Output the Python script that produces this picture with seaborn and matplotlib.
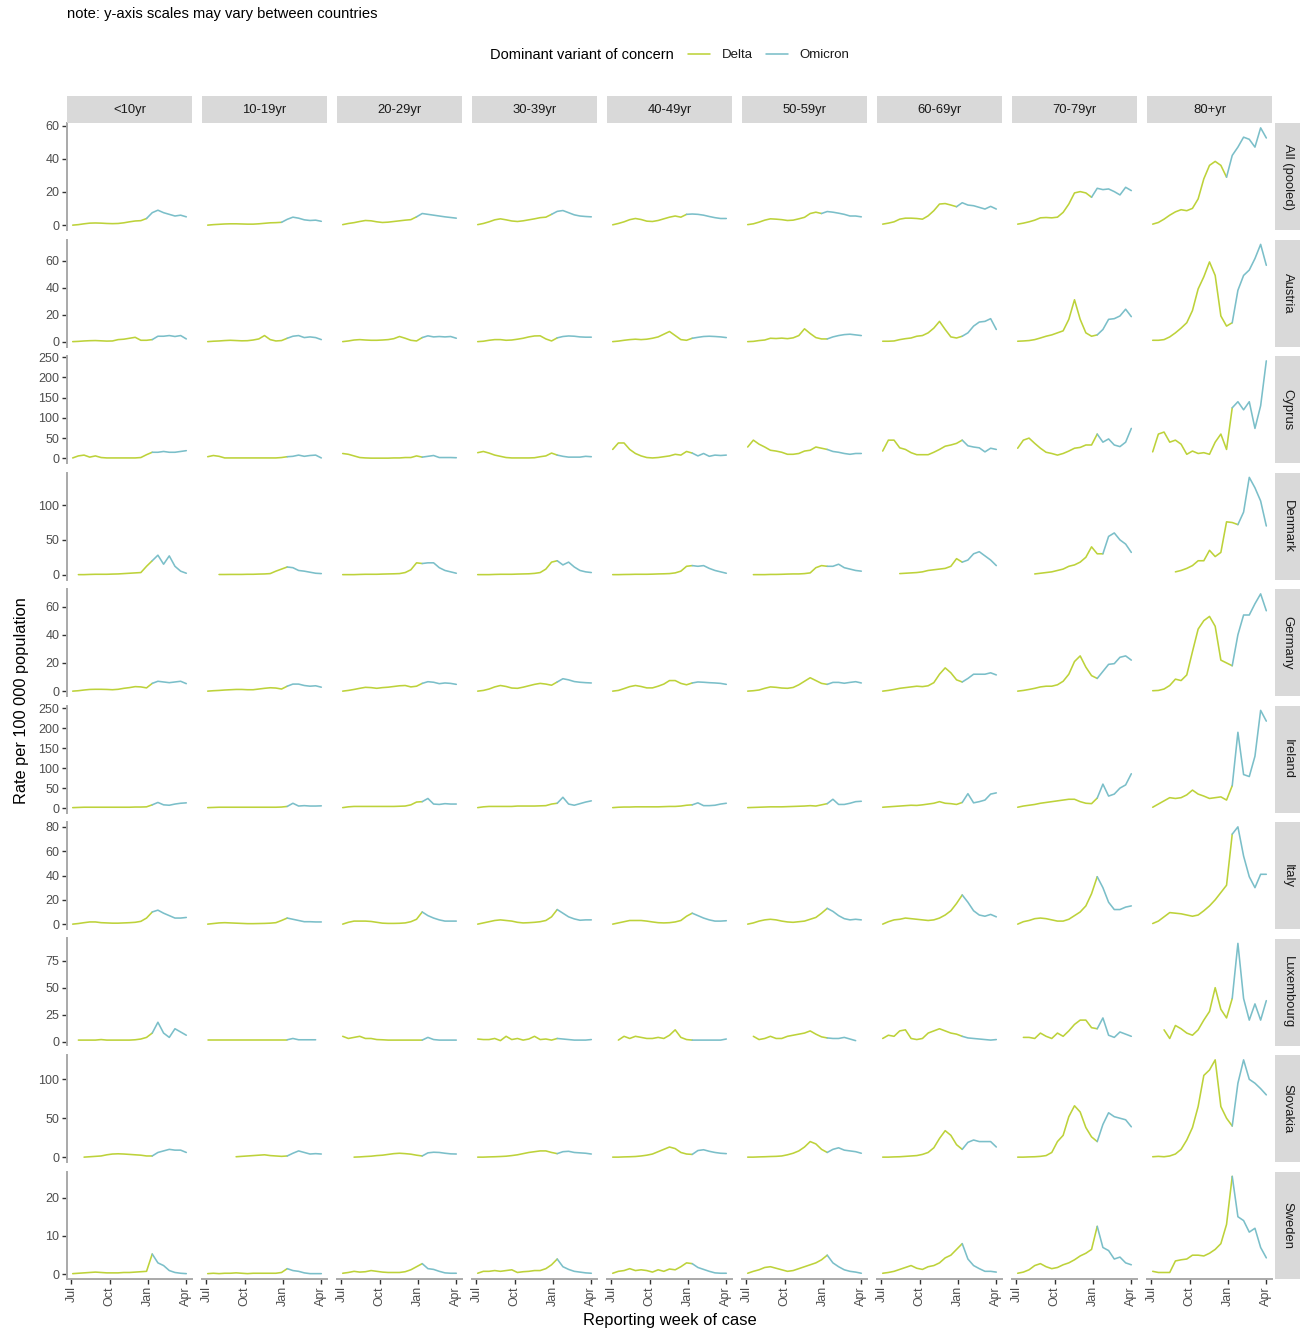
import numpy as np
import pandas as pd
import matplotlib
matplotlib.use("Agg")
import matplotlib.pyplot as plt
import matplotlib.dates as mdates
from matplotlib.lines import Line2D
import seaborn as sns

# ---------------- data ----------------
AGE_GROUPS = ["<10yr", "10-19yr", "20-29yr", "30-39yr", "40-49yr",
              "50-59yr", "60-69yr", "70-79yr", "80+yr"]
COUNTRIES = ["All (pooled)", "Austria", "Cyprus", "Denmark", "Germany",
             "Ireland", "Italy", "Luxembourg", "Slovakia", "Sweden"]
VARIANTS = ["Delta", "Omicron"]
WEEK_START = "2021-07-04"
WEEK_END = "2022-04-02"
N_WEEKS = 21
X_TICKS = ["2021-07-01", "2021-10-01", "2022-01-01", "2022-04-01"]
X_TICK_LABELS = ["Jul", "Oct", "Jan", "Apr"]
Y_TICKS = {
    "All (pooled)": [0, 20, 40, 60],
    "Austria": [0, 20, 40, 60],
    "Cyprus": [0, 50, 100, 150, 200, 250],
    "Denmark": [0, 50, 100],
    "Germany": [0, 20, 40, 60],
    "Ireland": [0, 50, 100, 150, 200, 250],
    "Italy": [0, 20, 40, 60, 80],
    "Luxembourg": [0, 25, 50, 75],
    "Slovakia": [0, 50, 100],
    "Sweden": [0, 10, 20],
}
N = None

ALL_POOLED = [
    [0, 0.3, 0.8, 1.2, 1.3, 1.2, 1, 0.9, 1, 1.4, 2, 2.5, 2.7, 4, 7.5, 9, 7.5, 6.5, 5.5, 6, 5],
    [0, 0.3, 0.5, 0.7, 0.8, 0.8, 0.7, 0.6, 0.6, 0.8, 1.1, 1.4, 1.5, 1.7, 3.5, 4.8, 4.2, 3.2, 2.8, 3, 2.3],
    [0.3, 1, 1.5, 2.2, 2.8, 2.6, 2, 1.6, 1.8, 2.2, 2.6, 3, 3.3, 5, 7, 6.5, 6, 5.5, 5, 4.6, 4.2],
    [0.3, 1, 2, 3.2, 3.8, 3.2, 2.5, 2.2, 2.6, 3.2, 3.8, 4.5, 4.8, 6.5, 8.3, 8.8, 7.5, 6.2, 5.5, 5.2, 5],
    [0.2, 1, 2, 3.3, 4, 3.4, 2.4, 2.2, 2.8, 3.8, 4.8, 5.5, 4.8, 6.5, 6.7, 6.5, 6, 5.2, 4.5, 4, 4],
    [0.3, 0.8, 1.8, 3, 3.8, 3.6, 3.3, 2.8, 3, 3.8, 4.7, 7, 7.8, 7, 8.2, 7.8, 7.2, 6.5, 5.5, 5.5, 5],
    [0.6, 1.2, 2, 3.6, 4.2, 4.2, 4, 3.6, 5.6, 8.7, 12.7, 13, 12.1, 11.1, 13.5, 12.1, 11.7, 10.7, 9.7, 11.3, 9.7],
    [0.6, 1.2, 2, 3, 4.4, 4.6, 4.4, 4.8, 7.7, 12.7, 19.4, 20.2, 19.4, 16.8, 22.2, 21.4, 21.8, 20.2, 18.2, 22.8, 20.8],
    [0.6, 1.6, 3.6, 6, 8, 9.3, 8.7, 10.1, 15.8, 27.9, 36, 38.4, 36, 28.9, 42, 47, 53, 51.7, 47, 58.6, 52.5],
]
AUSTRIA = [
    [0, 0.2, 0.5, 0.7, 0.8, 0.6, 0.4, 0.5, 1.5, 1.8, 2.5, 3.2, 1, 1, 1.5, 4, 4, 4.5, 3.8, 4.5, 2],
    [0, 0.3, 0.5, 0.8, 1, 0.8, 0.6, 0.7, 1.2, 2, 4.5, 1.5, 0.5, 0.8, 2.5, 4, 4.5, 3, 3.5, 3, 1.5],
    [0, 0.5, 1.2, 1.5, 1.2, 1, 1, 1.2, 1.5, 2.2, 3.8, 2.5, 1, 0.5, 3, 4.3, 3.5, 3.8, 3.5, 3.8, 2.5],
    [0, 0.3, 1, 1.5, 1.5, 1, 1.2, 1.8, 2.5, 3.5, 4.2, 4.3, 2, 0.5, 2.8, 3.8, 4.2, 4, 3.5, 3.3, 3.3],
    [0, 0.4, 1, 1.5, 1.8, 1.5, 1.8, 2.5, 3.5, 5.5, 7.5, 4.5, 1.5, 1, 2.5, 3.2, 3.8, 4, 3.8, 3.5, 3],
    [0, 0.2, 0.8, 1.2, 2.5, 2.3, 2.6, 2.2, 2.8, 4.5, 9.5, 6, 3, 2, 2, 3.5, 4.5, 5.2, 5.5, 5, 4.5],
    [0.3, 0.3, 0.5, 1.5, 2.2, 2.7, 4, 4.5, 6.5, 10, 15, 9, 3.5, 2.7, 4, 6.5, 11.5, 14.5, 15, 17, 9],
    [0.3, 0.5, 0.8, 1.5, 2.7, 4, 5, 6.5, 8, 16.5, 31, 16.5, 6.5, 4, 5, 9, 16.5, 17, 19, 24, 18.5],
    [1, 1, 1.5, 3.5, 6.5, 10, 14, 23, 39, 48, 59, 49, 19, 11.5, 14, 38, 49, 53, 61.5, 72, 56.5],
]
CYPRUS = [
    [1, 6, 8, 3, 6, 2, 1, 1, 1, 1, 1, 1, 2, 9, 15, 15, 17, 15, 15, 17, 19],
    [4, 7, 5, 1, 1, 1, 1, 1, 1, 1, 1, 1, 1, 2, 4, 5, 8, 5, 7, 8, 1],
    [12, 10, 6, 2, 1, 0.5, 0.5, 0.5, 0.5, 1, 1, 2, 2, 6, 3, 5, 7, 2, 2, 2, 1.5],
    [14, 17, 13, 8, 5, 2, 1, 1, 1, 1, 1.5, 4, 6, 13, 8, 5, 3, 3, 3, 5, 4],
    [22, 38, 38, 22, 12, 6, 2, 1, 2, 4, 6, 10, 8, 17, 13, 6, 12, 5, 8, 7, 8],
    [28, 45, 35, 28, 20, 18, 15, 10, 10, 12, 18, 20, 28, 25, 22, 17, 15, 12, 10, 12, 12],
    [18, 45, 45, 26, 22, 14, 9, 9, 9, 15, 22, 30, 33, 37, 45, 31, 28, 26, 16, 25, 22],
    [25, 45, 50, 37, 25, 15, 12, 8, 12, 18, 25, 27, 33, 33, 60, 40, 48, 33, 29, 40, 74],
    [16, 60, 65, 40, 45, 35, 10, 18, 12, 14, 10, 40, 60, 22, 125, 140, 120, 140, 74, 130, 241],
]
DENMARK = [
    [N, 0, 0, 0.3, 0.5, 0.5, 0.5, 0.8, 1, 1.5, 2, 2.5, 3, 12, 20, 28, 15, 27, 12, 5, 2],
    [N, N, 0.2, 0.2, 0.3, 0.3, 0.3, 0.5, 0.5, 0.8, 1, 1.5, 5, 8, 11, 10, 6, 5, 3.5, 2, 1.5],
    [0, 0, 0, 0.3, 0.5, 0.5, 0.5, 0.8, 1, 1.2, 1.5, 3, 7, 17, 16, 17, 17, 10, 6, 4, 2],
    [0, 0, 0, 0.3, 0.5, 0.5, 0.5, 0.8, 1, 1.2, 1.8, 3, 8, 18, 20, 14, 18, 11, 6, 4, 3],
    [0, 0, 0.2, 0.3, 0.5, 0.5, 0.5, 0.7, 1, 1.2, 1.5, 2.5, 5, 12, 13, 12, 13, 9, 6, 4, 2],
    [N, 0, 0, 0, 0.3, 0.3, 0.5, 0.8, 1, 1, 1.5, 2.5, 10, 13, 12, 12, 15, 10, 8, 6, 5],
    [N, N, N, 1.5, 2, 2.5, 3, 4, 6, 7, 8, 9, 12, 23, 18, 21, 30, 33, 27, 21, 13],
    [N, N, N, 1, 2, 3, 4, 6, 8, 12, 14, 18, 25, 40, 30, 30, 55, 60, 50, 44, 32],
    [N, N, N, N, 4, 6, 9, 13, 20, 20, 35, 26, 32, 76, 75, 72, 90, 140, 125, 106, 70],
]
GERMANY = [
    [0, 0.3, 0.8, 1.2, 1.3, 1.3, 1.2, 1, 1.3, 2, 2.5, 3.2, 3, 2.3, 5.5, 7, 6.5, 6, 6.5, 7, 5.3],
    [0, 0.3, 0.5, 0.8, 1, 1.2, 1.2, 1, 1, 1.5, 2, 2.4, 2.2, 1.5, 3.5, 5, 5, 4, 3.5, 3.8, 2.8],
    [0, 0.5, 1.2, 2, 2.7, 2.5, 2, 2.5, 2.8, 3.3, 3.8, 4, 3, 3.5, 5.5, 6.7, 6.3, 5.3, 5.8, 5.5, 4.8],
    [0, 0.5, 1.5, 3, 4, 3.3, 2.2, 2, 2.8, 3.8, 4.8, 5.5, 5, 4.2, 6.5, 8.8, 8, 6.8, 6.3, 6, 5.8],
    [0, 0.5, 1.8, 3.2, 4, 3.3, 2.3, 2.3, 3.5, 5, 7.5, 7.5, 5.5, 4.5, 5.8, 6.5, 6.3, 6, 5.8, 5.5, 4.8],
    [0, 0.3, 0.8, 2, 3, 2.7, 2.2, 2, 2.6, 4.5, 7, 9.5, 7.5, 5.5, 4.8, 6.2, 6.2, 5.6, 6.2, 6.7, 5.8],
    [0, 0.5, 1.2, 2, 2.5, 3, 3.5, 3.2, 3.8, 6, 12, 16.5, 13, 8, 6.5, 9, 12, 12, 12, 13, 11.5],
    [0, 0.5, 1.2, 2, 3, 3.5, 3.5, 4.5, 7, 12, 21, 25, 17, 11, 9, 14, 19, 19.5, 24, 25, 22],
    [0.3, 0.5, 1.5, 4, 8.5, 7.5, 11.5, 28, 44, 50, 53, 46, 22, 20, 18, 40, 54, 54, 62, 69, 57],
]
IRELAND = [
    [1, 1.5, 2, 2, 2, 2, 2, 2, 2, 2, 2, 2.5, 2.5, 3, 8, 14, 8, 7, 10, 12, 13],
    [1, 1.5, 2, 2, 2, 2, 2, 2, 2, 2, 2, 2, 2, 2.5, 4, 12, 5, 6, 5, 5, 5.5],
    [1, 3, 4, 4, 4, 4, 4, 4, 4, 4, 4.5, 5, 8, 15, 16, 24, 10, 9, 11, 10, 10],
    [1, 3, 4, 4, 4, 4, 4, 5, 5, 5, 5, 5.5, 6, 10, 12, 27, 10, 7, 11, 15, 18],
    [1, 2, 2.5, 2.5, 3, 3, 3, 3, 3, 3.5, 4, 4, 5, 7, 8, 13, 6, 6, 7, 10, 12],
    [1, 1.5, 2, 2.5, 3, 3, 3, 3.5, 4, 4.5, 5, 6, 5, 8, 11, 22, 9, 9, 12, 16, 17],
    [2, 3, 4, 5, 6, 7, 6.5, 8, 10, 12, 16, 12, 11, 9, 14, 36, 13, 16, 20, 35, 38],
    [2, 5, 7, 9, 12, 14, 16, 18, 20, 22, 22, 16, 12, 11, 25, 60, 30, 35, 50, 58, 86],
    [2, 10, 18, 26, 24, 26, 33, 45, 35, 30, 24, 26, 28, 20, 56, 190, 84, 79, 130, 245, 218],
]
ITALY = [
    [0, 0.5, 1.2, 1.8, 1.8, 1.2, 1, 0.8, 0.8, 1, 1.2, 1.5, 2.3, 5, 10, 11.5, 9, 7, 5, 5, 5.5],
    [0, 0.5, 1, 1.2, 1, 0.8, 0.6, 0.4, 0.4, 0.5, 0.6, 0.8, 1.2, 3, 5, 4, 3, 2, 2, 1.8, 1.8],
    [0, 1.5, 2.5, 2.5, 2.5, 2.2, 1.5, 0.8, 0.6, 0.6, 0.7, 1, 2, 4, 10, 7, 5, 3.5, 2.5, 2.5, 2.5],
    [0, 1, 2, 3, 3.5, 3, 2.5, 1.5, 1, 1.2, 1.5, 2, 3, 6, 12, 9, 6, 4.3, 3.2, 3.5, 3.5],
    [0, 1, 2, 3, 3, 3, 2.5, 1.8, 1.2, 1, 1.2, 1.8, 3, 6.5, 9, 7, 5, 3.5, 2.5, 2.5, 2.8],
    [0, 1, 2.5, 3.5, 4, 3.5, 2.5, 1.8, 1.5, 2, 2.5, 4, 5.5, 9, 13, 10.5, 7, 4.5, 3.5, 4, 3.5],
    [0, 2, 3.5, 4, 5, 4.5, 4, 3.5, 3, 3.5, 5, 7.5, 11, 17, 24, 18, 11, 7.5, 6.5, 8, 6],
    [0, 2, 3, 4.5, 5, 4.5, 3.5, 2.5, 2.5, 4, 7, 10, 15, 25, 39, 30, 18, 12, 12, 14, 15],
    [0.5, 2.5, 6, 9.5, 9, 8.5, 7.5, 6.5, 7.5, 11, 15, 20, 26, 32, 74, 80, 56, 39, 30, 41, 41],
]
LUXEMBOURG = [
    [N, 1.5, 1.5, 1.5, 1.5, 2, 1.5, 1.5, 1.5, 1.5, 1.5, 1.8, 2.5, 4, 8, 18, 8, 4, 12, 9, 6],
    [1.8, 1.8, 1.8, 1.8, 1.8, 1.8, 1.8, 1.8, 1.8, 1.8, 1.8, 1.8, 1.8, 1.8, 1.8, 3, 1.8, 1.8, 1.8, 1.8, N],
    [5, 3, 4, 5, 3, 3, 2, 1.8, 1.5, 1.5, 1.5, 1.5, 1.5, 1.5, 1.5, 4, 2, 1.5, 1.5, 1.5, 1.5],
    [2.5, 2, 2, 3, 1, 5, 2, 3, 1.5, 2.5, 5, 2, 2.5, 1.5, 3, 2.5, 2, 1.5, 1.5, 1.5, 2],
    [N, 1.5, 5, 3, 5, 4, 3, 3, 4, 3, 6, 11, 4, 2, 1.5, 1.5, 1.5, 1.5, 1.5, 1.5, 2.5],
    [N, 5, 2, 3, 5, 3, 3, 5, 6, 7, 8, 10, 7, 4.5, 3.5, 3, 3, 4, 2.5, 1, N],
    [3, 6, 5, 10, 11, 3, 2, 3, 8, 10, 12, 10, 8, 7, 5, 3.5, 3, 2.5, 2, 1.5, 2],
    [N, 4, 4, 3, 8, 5, 3, 8, 5, 10, 16, 20, 20, 13, 12, 22, 6, 4, 9, 7, 5],
    [N, N, 11, 3, 15, 12, 8, 6, 11, 20, 28, 50, 30, 22, 40, 91, 40, 20, 35, 20, 38],
]
SLOVAKIA = [
    [N, N, 0, 0.5, 1, 1.5, 3, 4, 4.3, 4, 3.5, 3, 2.5, 1.5, 1.5, 6, 8, 10, 9, 9, 6],
    [N, N, N, N, N, 0.5, 1, 1.5, 2, 2.5, 3, 2, 1.5, 1, 1.5, 5, 8, 6, 4, 4.5, 4],
    [N, N, 0, 0.3, 0.8, 1.2, 2, 2.5, 3.5, 4.5, 5, 4.5, 3.8, 2.5, 1.5, 5.5, 6.3, 6, 5, 4.2, 4],
    [0, 0, 0.3, 0.5, 0.8, 1.2, 2, 3, 4.5, 6, 7, 8, 8, 6, 4.5, 7, 7.5, 6, 5.5, 5, 4],
    [0, 0, 0.3, 0.5, 0.8, 1.5, 2.5, 4, 7, 10, 13, 11, 6, 4, 3.5, 8.5, 9.5, 7.5, 6, 5, 4.5],
    [0, 0, 0.3, 0.5, 0.8, 1, 1.5, 3, 5, 8, 13, 20, 17, 10, 6, 10, 12, 9, 8, 7, 5],
    [0, 0, 0.3, 0.5, 1, 1.5, 2, 3.5, 6, 12, 24, 34, 28, 16, 10, 19, 22, 20, 20, 20, 13],
    [0, 0, 0.3, 0.5, 1, 2, 6, 20, 28, 52, 66, 58, 38, 26, 20, 42, 57, 52, 50, 48, 39],
    [0.5, 1, 0.5, 1.5, 4, 10, 22, 38, 65, 105, 112, 125, 65, 50, 40, 95, 125, 100, 95, 88, 80],
]
SWEDEN = [
    [0.2, 0.3, 0.4, 0.5, 0.6, 0.5, 0.4, 0.4, 0.4, 0.5, 0.5, 0.6, 0.7, 0.8, 5.3, 3, 2.3, 1, 0.5, 0.3, 0.2],
    [0.2, 0.3, 0.2, 0.3, 0.3, 0.4, 0.3, 0.2, 0.3, 0.3, 0.3, 0.3, 0.3, 0.5, 1.5, 1, 0.8, 0.4, 0.2, 0.2, 0.2],
    [0.3, 0.5, 0.8, 0.6, 0.7, 1, 0.8, 0.6, 0.5, 0.5, 0.5, 0.7, 1.2, 2, 2.8, 1.5, 1.3, 0.8, 0.4, 0.3, 0.3],
    [0.3, 0.8, 0.8, 1, 0.8, 1, 1.2, 0.5, 0.7, 0.8, 1, 1, 1.5, 2.5, 4, 2, 1.3, 0.8, 0.6, 0.4, 0.3],
    [0.3, 0.8, 1, 1.5, 1, 1.2, 1, 0.6, 1.2, 0.8, 1.4, 1.2, 2, 3, 2.8, 1.8, 1.3, 0.8, 0.4, 0.3, 0.3],
    [0.3, 0.8, 1.2, 1.8, 2, 1.6, 1.2, 0.8, 1, 1.5, 2, 2.5, 3, 3.8, 5, 3, 2, 1.2, 0.8, 0.6, 0.3],
    [0.3, 0.5, 0.8, 1.3, 1.8, 2.3, 1.6, 1.3, 2, 2.3, 3, 4.3, 5, 6.5, 8, 4, 2.3, 1.5, 0.8, 0.8, 0.6],
    [0.3, 0.6, 1.2, 2.3, 2.8, 2, 1.5, 1.8, 2.5, 3, 3.8, 4.8, 5.5, 6.5, 12.5, 7, 6.2, 4, 4.5, 3, 2.5],
    [0.8, 0.5, 0.5, 0.5, 3.5, 3.8, 4, 5, 5, 4.8, 5.5, 6.5, 8, 13, 25.5, 15, 14, 11, 12, 7, 4.3],
]
# index of the week where the dominant variant switches from Delta to Omicron
SWITCH_WEEK = {
    "All (pooled)": [13] * 9,
    "Austria": [14] * 9,
    "Cyprus": [14] * 9,
    "Denmark": [14, 14, 14, 14, 14, 14, 14, 15, 15],
    "Germany": [14] * 9,
    "Ireland": [14] * 9,
    "Italy": [14] * 9,
    "Luxembourg": [14] * 9,
    "Slovakia": [14] * 9,
    "Sweden": [14] * 9,
}
SERIES = dict(zip(COUNTRIES, [ALL_POOLED, AUSTRIA, CYPRUS, DENMARK, GERMANY,
                              IRELAND, ITALY, LUXEMBOURG, SLOVAKIA, SWEDEN]))

# ---------------- long table ----------------
weeks = pd.date_range(WEEK_START, WEEK_END, periods=N_WEEKS)
rows = []
for country in COUNTRIES:
    for a, age in enumerate(AGE_GROUPS):
        vals = SERIES[country][a]
        s = SWITCH_WEEK[country][a]
        for k, v in enumerate(vals):
            if v is None:
                continue
            if k <= s:
                rows.append((country, age, weeks[k], v, "Delta"))
            if k >= s:
                rows.append((country, age, weeks[k], v, "Omicron"))
df = pd.DataFrame(rows, columns=["country", "age", "week", "rate", "variant"])

# ---------------- style ----------------
sns.set_theme(style="white")
plt.rcParams["font.family"] = ["Liberation Sans", "DejaVu Sans"]
PALETTE = {"Delta": "#BDD23A", "Omicron": "#7BBFC9"}
LINE_W = 1.15
STRIP_BG = "#D9D9D9"
TEXT_DARK = "#1A1A1A"
TICK_TXT = "#4D4D4D"
AXIS_LINE = "#A9A9A9"

W, H = 1306, 1329
fig = plt.figure(figsize=(W / 100, H / 100), dpi=100)
fig.patch.set_facecolor("white")


def rect(x, y, w, h):
    return [x / W, 1 - (y + h) / H, w / W, h / H]


PX0, PDX, PW = 67, 135, 125
PY0, PDY, PH = 123, 116.5, 107
STRIP_TOP_Y, STRIP_TOP_H = 96, 27
STRIP_R_X, STRIP_R_W = 1275, 25

span = weeks[-1] - weeks[0]
xlim = (mdates.date2num(weeks[0] - 0.05 * span), mdates.date2num(weeks[-1] + 0.05 * span))
xt = [mdates.date2num(pd.Timestamp(d)) for d in X_TICKS]

for r, country in enumerate(COUNTRIES):
    sub_c = df[df.country == country]
    lo, hi = sub_c.rate.min(), sub_c.rate.max()
    pad = 0.05 * (hi - lo)
    ylim = (lo - pad, hi + pad)
    for c, age in enumerate(AGE_GROUPS):
        ax = fig.add_axes(rect(PX0 + PDX * c, PY0 + PDY * r, PW, PH))
        sub = sub_c[sub_c.age == age]
        sns.lineplot(data=sub, x="week", y="rate", hue="variant", hue_order=VARIANTS,
                     palette=PALETTE, ax=ax, legend=False, linewidth=LINE_W,
                     estimator=None, sort=True)
        ax.set_xlim(*xlim)
        ax.set_ylim(*ylim)
        ax.set_xlabel("")
        ax.set_ylabel("")
        ax.set_facecolor("white")
        for sp in ax.spines.values():
            sp.set_visible(False)
        ax.grid(False)
        if c == 0:
            ax.spines["left"].set_visible(True)
            ax.spines["left"].set_color(AXIS_LINE)
            ax.spines["left"].set_linewidth(1.4)
            ax.set_yticks(Y_TICKS[country])
            ax.set_yticklabels([str(t) for t in Y_TICKS[country]])
            ax.tick_params(axis="y", left=True, length=3.5, width=1, color="#333333",
                           labelcolor=TICK_TXT, labelsize=9, pad=2)
        else:
            ax.set_yticks([])
        if r == len(COUNTRIES) - 1:
            ax.spines["bottom"].set_visible(True)
            ax.spines["bottom"].set_color(AXIS_LINE)
            ax.spines["bottom"].set_linewidth(1.4)
            ax.set_xticks(xt)
            ax.set_xticklabels(X_TICK_LABELS, rotation=90, va="top", ha="center")
            ax.tick_params(axis="x", bottom=True, length=3.5, width=1, color="#333333",
                           labelcolor=TICK_TXT, labelsize=9, pad=2)
        else:
            ax.set_xticks([])

# top strips
for c, age in enumerate(AGE_GROUPS):
    sax = fig.add_axes(rect(PX0 + PDX * c, STRIP_TOP_Y, PW, STRIP_TOP_H))
    sax.set_facecolor(STRIP_BG)
    sax.set_xticks([]); sax.set_yticks([])
    for sp in sax.spines.values():
        sp.set_visible(False)
    sax.text(0.5, 0.5, age, ha="center", va="center", fontsize=9.4,
             color=TEXT_DARK, transform=sax.transAxes)

# right strips
for r, country in enumerate(COUNTRIES):
    sax = fig.add_axes(rect(STRIP_R_X, PY0 + PDY * r, STRIP_R_W, PH))
    sax.set_facecolor(STRIP_BG)
    sax.set_xticks([]); sax.set_yticks([])
    for sp in sax.spines.values():
        sp.set_visible(False)
    sax.text(0.5, 0.5, country, ha="center", va="center", rotation=-90,
             fontsize=9.4, color=TEXT_DARK, transform=sax.transAxes)

# titles and note
fig.text(67 / W, 1 - 14 / H, "note: y-axis scales may vary between countries",
         ha="left", va="center", fontsize=10.6, color="black")
fig.text(22 / W, 1 - 701 / H, "Rate per 100 000 population", rotation=90,
         ha="center", va="center", fontsize=11.8, color="black")
fig.text(670 / W, 1 - 1320 / H, "Reporting week of case", ha="center",
         va="center", fontsize=11.9, color="black")

# legend
fig.text(490 / W, 1 - 55 / H, "Dominant variant of concern", ha="left",
         va="center", fontsize=10.5, color="black")
handles = [Line2D([0], [0], color=PALETTE[v], lw=LINE_W) for v in VARIANTS]
fig.legend(handles, VARIANTS, ncol=2, loc="center left",
           bbox_to_anchor=(688 / W, 1 - 55 / H), frameon=False, fontsize=9.5,
           handlelength=1.65, handletextpad=0.9, columnspacing=1.0,
           borderpad=0, borderaxespad=0, labelcolor=TEXT_DARK)

fig.savefig("out.png", dpi=100, facecolor="white")
